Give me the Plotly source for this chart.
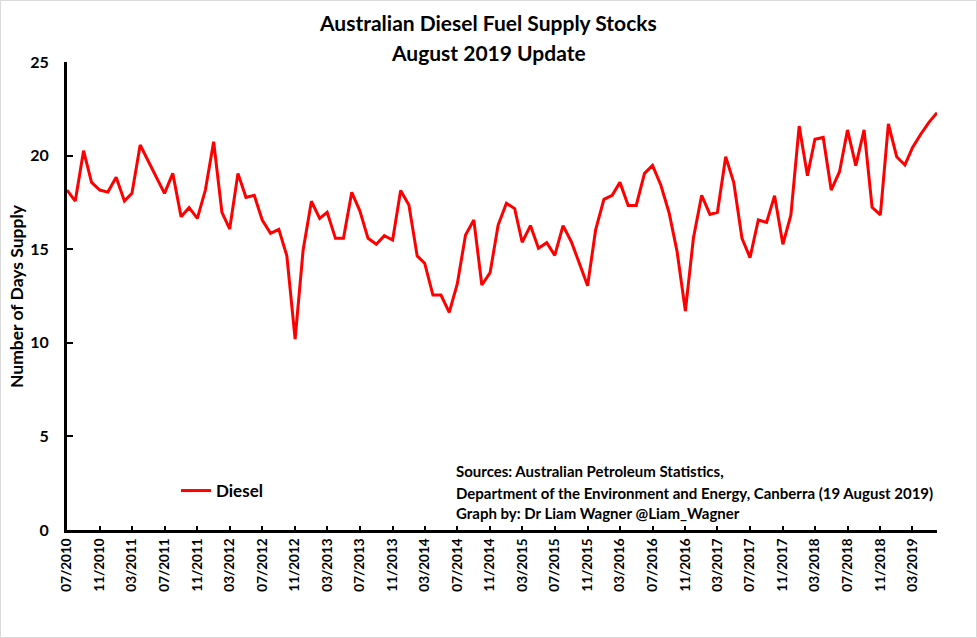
import pandas as pd
import plotly.graph_objects as go

# Monthly data, 07/2010 .. 06/2019
start_month = "2010-07-01"
diesel_days = [
    18.16, 17.57, 20.26, 18.57, 18.16, 18.05, 18.84, 17.57, 17.98, 20.57,
    19.71, 18.86, 17.98, 19.05, 16.74, 17.22, 16.65, 18.16, 20.74, 16.97,
    16.08, 19.05, 17.77, 17.88, 16.56, 15.85, 16.06, 14.65, 10.20, 14.96,
    17.56, 16.65, 16.97, 15.58, 15.58, 18.04, 17.06, 15.58, 15.26, 15.72,
    15.49, 18.13, 17.36, 14.64, 14.25, 12.55, 12.55, 11.63, 13.14, 15.76,
    16.56, 13.09, 13.75, 16.29, 17.45, 17.17, 15.37, 16.26, 15.05, 15.35,
    14.67, 16.26, 15.40, 14.25, 13.05, 16.03, 17.66, 17.88, 18.57, 17.34,
    17.34, 19.05, 19.48, 18.43, 16.95, 14.87, 11.70, 15.58, 17.88, 16.86,
    16.97, 19.94, 18.57, 15.58, 14.55, 16.56, 16.43, 17.86, 15.26, 16.83,
    21.58, 18.93, 20.87, 20.97, 18.16, 19.14, 21.37, 19.46, 21.37, 17.24,
    16.83, 21.69, 19.94, 19.50, 20.42, 21.14, 21.76, 22.29,
]
months = pd.date_range(start_month, periods=len(diesel_days), freq="MS")

title_lines = ["Australian Diesel Fuel Supply Stocks", "August 2019 Update"]
y_title = "Number of Days Supply"
source_lines = [
    "Sources: Australian Petroleum Statistics,",
    "Department of the Environment and Energy, Canberra (19 August 2019)",
    "Graph by: Dr Liam Wagner @Liam_Wagner",
]

FONT = "Lato"

fig = go.Figure()
fig.add_trace(go.Scatter(
    x=months, y=diesel_days, mode="lines", name="<b>Diesel</b>",
    line=dict(color="#FF0000", width=3),
))

W, H = 977, 638
L, R, T, B = 67, 40, 62, 108
pw, ph = W - L - R, H - T - B

annotations = []
for txt, ypix in zip(title_lines, [22, 52]):
    annotations.append(dict(
        text=f"<b>{txt}</b>", xref="paper", yref="paper",
        x=(488 - L) / pw, y=(H - B - ypix) / ph, xanchor="center", yanchor="middle",
        showarrow=False, font=dict(family=FONT, size=21, color="black"),
    ))
for txt, ypix in zip(source_lines, [471, 493, 513]):
    annotations.append(dict(
        text=f"<b>{txt}</b>", xref="paper", yref="paper",
        x=(454 - L) / pw, y=(H - B - ypix) / ph, xanchor="left", yanchor="middle",
        showarrow=False, font=dict(family=FONT, size=15, color="black"),
    ))
annotations.append(dict(
    text=f"<b>{y_title}</b>", xref="paper", yref="paper", textangle=-90,
    x=(16 - L) / pw, y=(H - B - 296) / ph, xanchor="center", yanchor="middle",
    showarrow=False, font=dict(family=FONT, size=17.5, color="black"),
))

fig.update_layout(
    width=W, height=H,
    margin=dict(l=L, r=R, t=T, b=B, autoexpand=False),
    paper_bgcolor="white", plot_bgcolor="white",
    font=dict(family=FONT, color="black"),
    showlegend=True,
    legend=dict(
        x=(176 - L) / pw, y=(H - B - 491) / ph, xanchor="left", yanchor="middle",
        bgcolor="rgba(0,0,0,0)", font=dict(family=FONT, size=17, color="black"),
    ),
    annotations=annotations,
    shapes=[dict(
        type="rect", xref="paper", yref="paper",
        x0=-(L - 0.5) / pw, x1=1 + (R - 0.5) / pw,
        y0=-(B - 0.5) / ph, y1=1 + (T - 0.5) / ph,
        line=dict(color="#D9D9D9", width=1), layer="below",
    )],
    xaxis=dict(
        range=[months[0], months[-1]], automargin=False,
        tick0=start_month, dtick="M4", tickformat="%m/%Y",
        tickangle=-90, showgrid=False, zeroline=False,
        showline=True, linecolor="black", linewidth=3,
        ticks="inside", ticklen=4, tickwidth=2, tickcolor="black",
        tickfont=dict(family=FONT, size=13.5, color="black", weight="bold"),
    ),
    yaxis=dict(
        range=[0, 25], dtick=5, showgrid=False, zeroline=False, automargin=False,
        showline=True, linecolor="black", linewidth=3,
        ticks="inside", ticklen=6, tickwidth=2, tickcolor="black",
        ticklabelstandoff=12,
        tickfont=dict(family=FONT, size=16, color="black", weight="bold"),
    ),
)

fig.write_html("out.html", config={"displayModeBar": False},
               post_script="document.body.style.margin='0';")
